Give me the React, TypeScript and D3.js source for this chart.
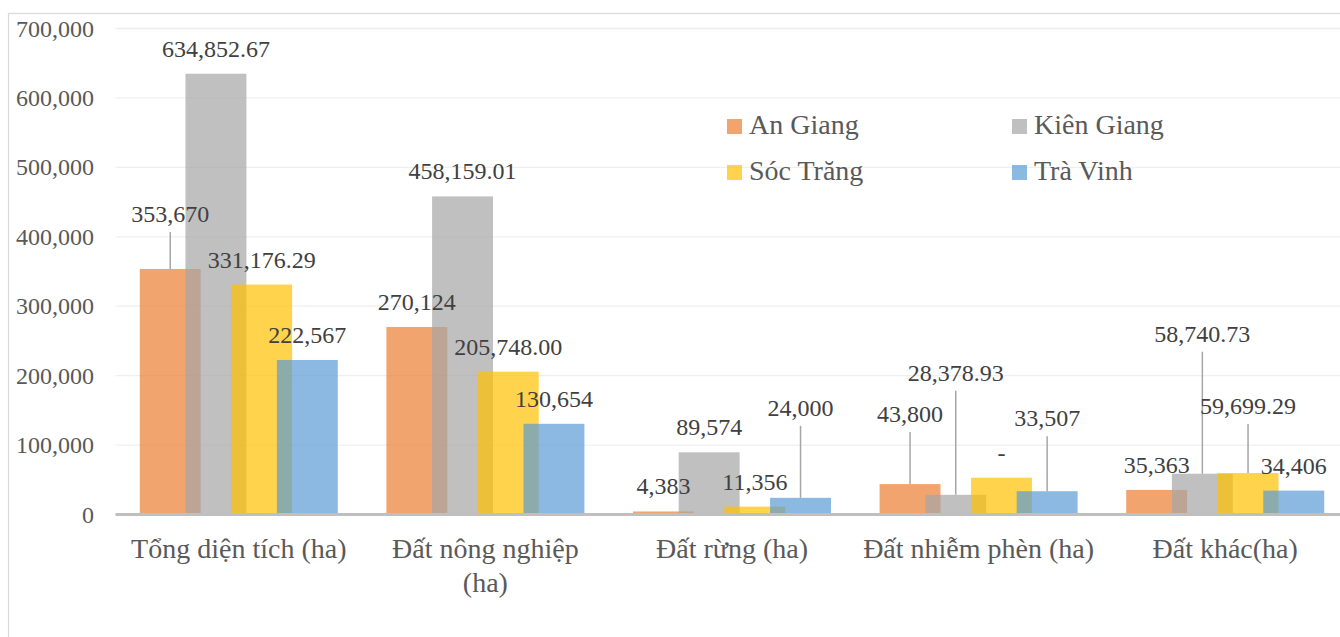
import React from "react";
import * as d3 from "d3";

const categories = [
  ["Tổng diện tích (ha)"],
  ["Đất nông nghiệp", "(ha)"],
  ["Đất rừng (ha)"],
  ["Đất nhiễm phèn (ha)"],
  ["Đất khác(ha)"],
];
const seriesNames = ["An Giang", "Kiên Giang", "Sóc Trăng", "Trà Vinh"];
const anGiang = [353670, 270124, 4383, 43800, 35363];
const kienGiang = [634852.67, 458159.01, 89574, 28378.93, 58740.73];
const socTrang = [331176.29, 205748.0, 11356, 53000, 59699.29];
const traVinh = [222567, 130654, 24000, 33507, 34406];
const anGiangLabels = ["353,670", "270,124", "4,383", "43,800", "35,363"];
const kienGiangLabels = ["634,852.67", "458,159.01", "89,574", "28,378.93", "58,740.73"];
const socTrangLabels = ["331,176.29", "205,748.00", "11,356", "-", "59,699.29"];
const traVinhLabels = ["222,567", "130,654", "24,000", "33,507", "34,406"];
const yTicks = [0, 100000, 200000, 300000, 400000, 500000, 600000, 700000];

// layout: extra upward lift of the moved data labels (px), per series x category
const labelLift = [
  [30, 0, 0, 45, 0],
  [0, 0, 0, 97, 115],
  [0, 0, 0, 0, 42],
  [0, 0, 65, 48, 0],
];

const colors = ["#ED7D31", "#A5A5A5", "#FFC000", "#5B9BD5"];
const values = [anGiang, kienGiang, socTrang, traVinh];
const labels = [anGiangLabels, kienGiangLabels, socTrangLabels, traVinhLabels];

const FONT = '"Liberation Serif", Tinos, "Times New Roman", "DejaVu Serif", serif';
const tStyle = { fontFamily: FONT };

export default function App() {
  const W = 1340;
  const H = 637;
  const left = 115.5;
  const bandW = 246.6;
  const x = d3
    .scaleBand<number>()
    .domain(categories.map((_, i) => i))
    .range([left, left + bandW * categories.length])
    .paddingInner(0.197)
    .paddingOuter(0.0985);
  const y = d3.scaleLinear().domain([0, 700000]).range([514.5, 28.5]);
  const groupW = x.bandwidth();
  const barW = groupW / 3.25;
  const step = (groupW - barW) / 3;
  const fmt = d3.format(",");

  return (
    <svg
      width={W}
      height={H}
      style={{ position: "absolute", left: 0, top: 0, background: "#fff", fontFamily: FONT }}
    >
      <rect x={0} y={0} width={W} height={H} fill="#fff" />
      <rect x={8.5} y={13.5} width={W + 20} height={H + 20} fill="none" stroke="#D9D9D9" strokeWidth={1.2} />
      {yTicks.map((t) => (
        <g key={t}>
          {t > 0 && (
            <line x1={left} x2={W} y1={y(t)} y2={y(t)} stroke="#EFEFEF" strokeWidth={1.3} />
          )}
          <text x={94} y={y(t) + 8} textAnchor="end" fontSize={24} fill="#595959" style={tStyle}>
            {fmt(t)}
          </text>
        </g>
      ))}
      {values.map((vals, s) => (
        <g key={s}>
          {vals.map((v, c) => (
            <rect
              key={c}
              x={(x(c) as number) + s * step}
              y={y(v)}
              width={barW}
              height={y(0) - y(v)}
              fill={colors[s]}
              fillOpacity={0.7}
            />
          ))}
        </g>
      ))}
      <line x1={left} x2={W} y1={y(0)} y2={y(0)} stroke="#BFBFBF" strokeWidth={3} />
      {values.map((vals, s) => (
        <g key={"l" + s}>
          {vals.map((v, c) => {
            const cx = (x(c) as number) + s * step + barW / 2;
            const top = y(v);
            const lift = labelLift[s][c];
            const base = top - 17 - lift;
            return (
              <g key={c}>
                {lift > 0 && (
                  <line x1={cx} x2={cx} y1={base + 10} y2={top} stroke="#A6A6A6" strokeWidth={1.5} />
                )}
                <text x={cx} y={base} textAnchor="middle" fontSize={24} fill="#404040" style={tStyle}>
                  {labels[s][c]}
                </text>
              </g>
            );
          })}
        </g>
      ))}
      {categories.map((lines, c) => (
        <text
          key={c}
          x={(x(c) as number) + groupW / 2}
          y={558}
          textAnchor="middle"
          fontSize={28}
          fill="#595959"
          style={tStyle}
        >
          {lines.map((ln, i) => (
            <tspan key={i} x={(x(c) as number) + groupW / 2} dy={i === 0 ? 0 : 34}>
              {ln}
            </tspan>
          ))}
        </text>
      ))}
      {seriesNames.map((name, i) => {
        const col = i % 2;
        const row = Math.floor(i / 2);
        const lx = col === 0 ? 727 : 1012;
        const ly = row === 0 ? 134 : 180;
        return (
          <g key={name}>
            <rect x={lx} y={ly - 15} width={15} height={15} fill={colors[i]} fillOpacity={0.7} />
            <text x={lx + 22} y={ly} fontSize={28} fill="#595959" style={tStyle}>
              {name}
            </text>
          </g>
        );
      })}
    </svg>
  );
}
